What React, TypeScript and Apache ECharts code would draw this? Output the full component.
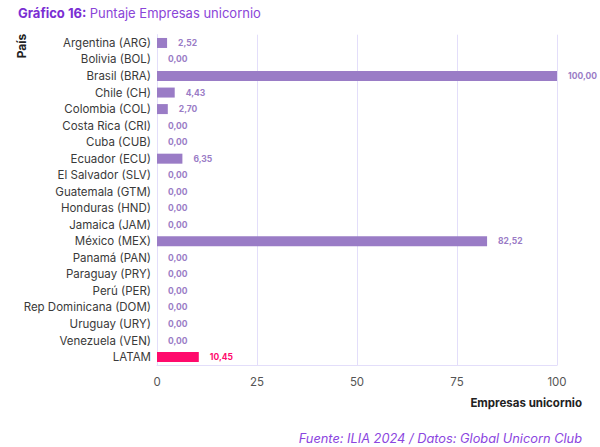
import React, { useEffect, useRef } from "react";
import * as echarts from "echarts";

const categories = [
  "Argentina (ARG)", "Bolivia (BOL)", "Brasil (BRA)", "Chile (CH)", "Colombia (COL)",
  "Costa Rica (CRI)", "Cuba (CUB)", "Ecuador (ECU)", "El Salvador (SLV)", "Guatemala (GTM)",
  "Honduras (HND)", "Jamaica (JAM)", "México (MEX)", "Panamá (PAN)", "Paraguay (PRY)",
  "Perú (PER)", "Rep Dominicana (DOM)", "Uruguay (URY)", "Venezuela (VEN)", "LATAM",
];
const values = [2.52, 0, 100, 4.43, 2.7, 0, 0, 6.35, 0, 0, 0, 0, 82.52, 0, 0, 0, 0, 0, 0, 10.45];
const highlight = "LATAM";
const xTicks = [0, 25, 50, 75, 100];

const PURPLE = "#9a7cc6";
const PINK = "#ff0a6c";
const GRID = "#e3defa";

export default function App() {
  const ref = useRef<HTMLDivElement>(null);
  useEffect(() => {
    const chart = echarts.init(ref.current!, null, { renderer: "svg" });
    const font = "Inter, 'Noto Sans', sans-serif";
    chart.setOption({
      animation: false,
      textStyle: { fontFamily: font },
      grid: { left: 157, right: 43, top: 34.7, bottom: 81.7, containLabel: false },
      xAxis: {
        type: "value",
        min: 0,
        max: 100,
        interval: 25,
        axisLine: { show: true, lineStyle: { color: GRID } },
        axisTick: { show: false },
        splitLine: { show: true, lineStyle: { color: GRID, width: 1 } },
        axisLabel: {
          color: "#555",
          fontSize: 11.5,
          margin: 11,
          formatter: (v: number) => (xTicks.includes(v) ? String(v) : ""),
        },
      },
      yAxis: {
        type: "category",
        inverse: true,
        data: categories,
        axisLine: { show: true, lineStyle: { color: GRID } },
        axisTick: { show: false },
        axisLabel: { color: "#3a3a3a", fontSize: 11.5, margin: 6 },
      },
      series: [
        {
          type: "bar",
          barWidth: 10,
          data: categories.map((c, i) => ({
            value: values[i],
            itemStyle: { color: c === highlight ? PINK : PURPLE },
            label: { color: c === highlight ? PINK : PURPLE },
          })),
          label: {
            show: true,
            position: "right",
            distance: 11,
            fontSize: 8.5,
            fontWeight: "bold",
            formatter: (p: any) => Number(p.value).toFixed(2).replace(".", ","),
          },
        },
      ],
      graphic: [
        {
          type: "text",
          left: 18,
          top: 6,
          style: {
            text: "{b|Gráfico 16:} {n|Puntaje Empresas unicornio}",
            rich: {
              b: { fontSize: 13, fontWeight: "bold", fill: "#7a2ed3", fontFamily: font },
              n: { fontSize: 13, fill: "#8a45d8", fontFamily: font },
            },
          },
        },
        {
          type: "text",
          x: 21,
          y: 46,
          rotation: Math.PI / 2,
          style: {
            text: "País",
            fontSize: 12,
            fontWeight: "bold",
            fill: "#222",
            align: "center",
            verticalAlign: "middle",
            fontFamily: font,
          },
        },
        {
          type: "text",
          right: 18,
          top: 397,
          style: {
            text: "Empresas unicornio",
            fontSize: 11.5,
            fontWeight: "bold",
            fill: "#222",
            fontFamily: font,
          },
        },
        {
          type: "text",
          right: 18,
          top: 432,
          style: {
            text: "Fuente: ILIA 2024 / Datos: Global Unicorn Club",
            fontSize: 12.8,
            fontStyle: "italic",
            fill: "#8b45e0",
            fontFamily: font,
          },
        },
      ],
    });
    return () => chart.dispose();
  }, []);
  return (
    <div
      ref={ref}
      style={{ position: "fixed", left: 0, top: 0, width: 600, height: 447, background: "#fff" }}
    />
  );
}
